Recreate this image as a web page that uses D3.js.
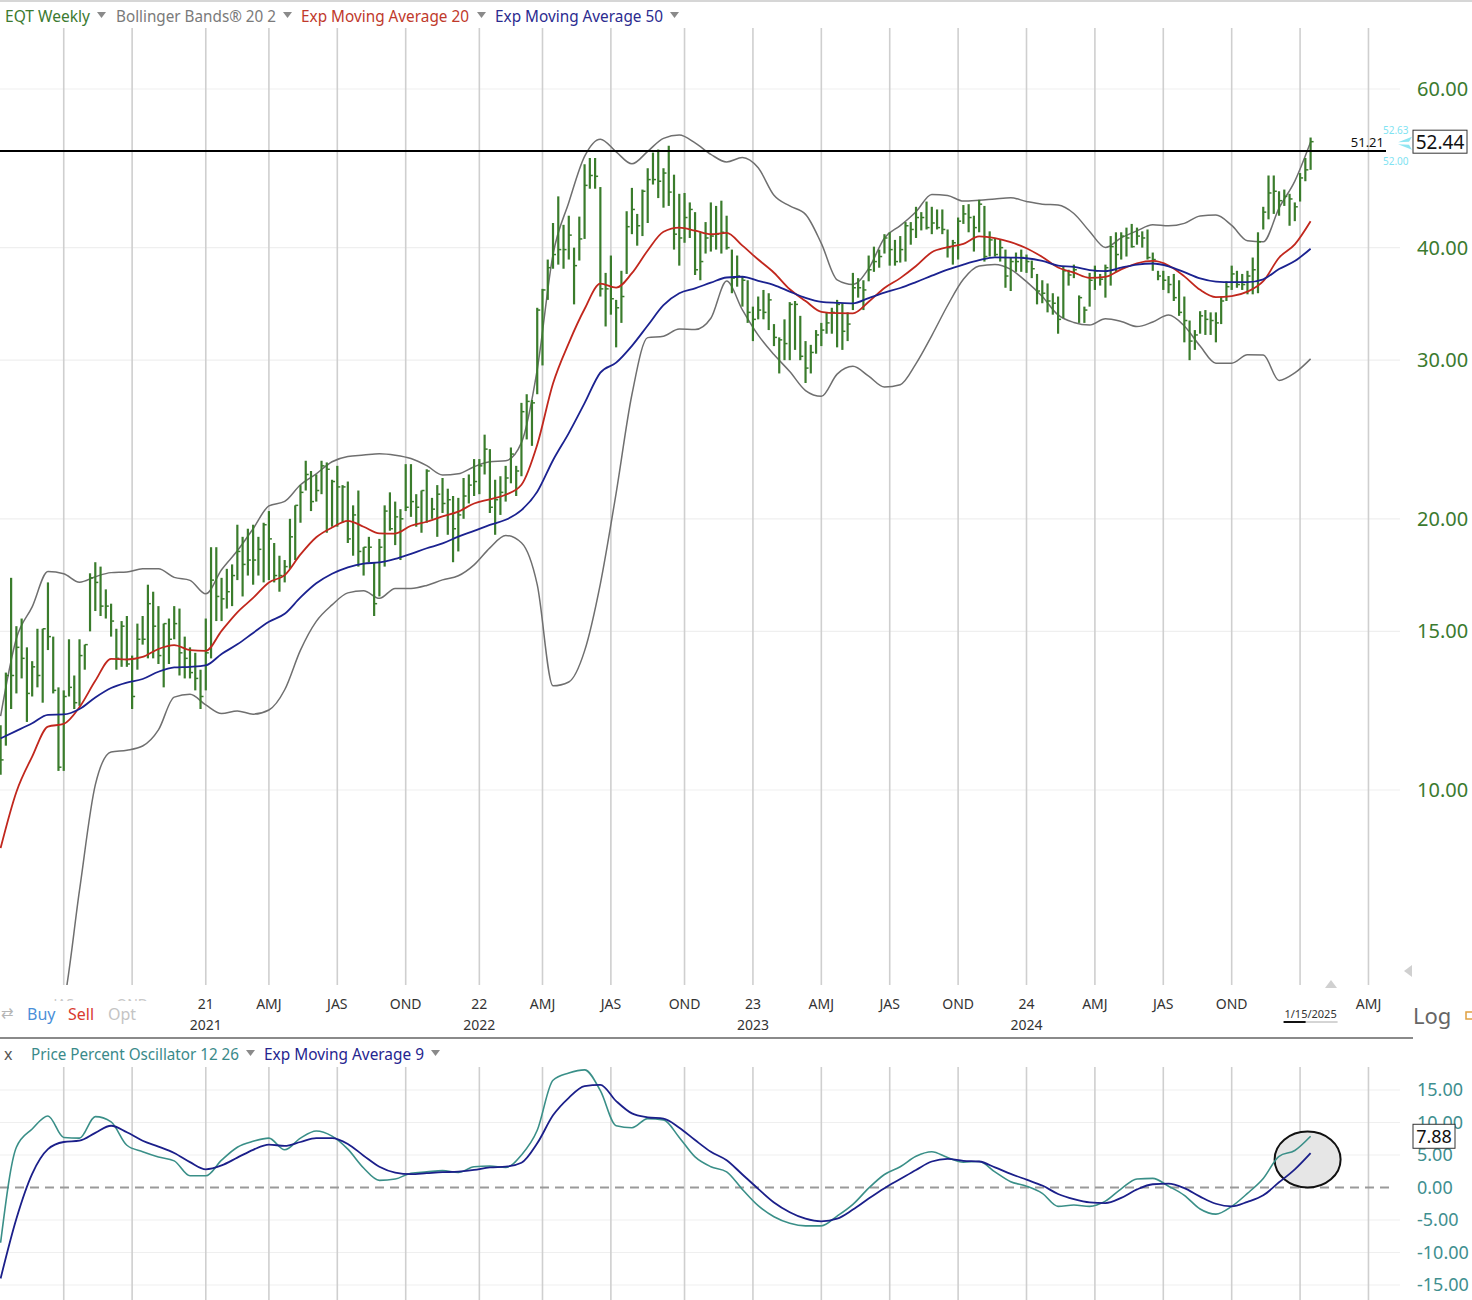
<!DOCTYPE html>
<html><head><meta charset="utf-8">
<script src="https://cdn.jsdelivr.net/npm/d3@7"></script>
<style>
body{margin:0;background:#fff;}
svg{display:block;font-family:"Noto Sans","Open Sans",sans-serif;}
</style></head><body>
<svg id="c" width="1472" height="1300"></svg>
<script>
// ---------- DATA ----------
const firstWeek = "2020-04-06";   // Monday of first weekly bar
const highs = [11.8,13.5,17.2,15.2,15.5,14.4,13.9,15.1,15.1,17.0,14.8,13.0,12.9,14.7,13.4,14.7,14.5,17.4,17.9,17.7,16.7,16.1,15.1,15.4,15.6,14.1,15.3,15.6,16.9,16.6,16.0,15.3,15.5,16.0,15.9,14.8,14.4,14.2,13.6,
15.5,18.6,18.6,17.2,17.6,17.8,19.7,19.1,19.5,19.7,19.1,19.8,20.4,18.8,18.2,18.0,20.0,20.7,21.8,23.2,22.6,22.4,23.2,23.1,22.1,22.9,21.8,22.0,20.7,21.5,18.6,19.1,17.9,19.0,20.7,21.4,20.9,20.5,23.0,23.0,21.3,21.5,22.7,
21.1,21.8,22.2,21.6,21.2,21.1,22.2,22.4,23.3,23.3,24.8,23.9,22.1,22.3,22.9,24.0,22.9,26.9,27.5,27.1,34.3,36.0,38.8,42.6,45.6,42.4,43.4,40.0,43.3,49.5,50.3,50.3,46.7,37.5,39.2,35.0,37.7,43.9,
46.6,43.6,46.4,49.0,51.0,51.4,49.0,51.9,48.2,45.9,46.0,44.9,43.8,41.6,42.7,44.9,44.5,45.1,43.4,39.8,39.2,37.2,36.8,34.4,35.3,35.9,35.6,32.9,31.8,33.3,34.8,34.9,33.6,31.5,31.2,32.4,33.0,33.9,34.3,35.0,34.7,33.9,
37.5,37.0,36.8,39.2,40.1,39.8,41.4,41.6,40.8,41.2,42.7,42.7,44.4,43.8,45.0,44.4,44.1,44.1,41.9,40.8,43.2,44.6,44.7,43.4,45.2,44.5,41.7,41.0,40.8,39.8,39.0,39.5,39.8,39.3,38.7,37.4,36.8,36.5,35.6,35.3,38.1,37.8,
38.3,35.4,34.4,37.5,38.2,37.4,38.3,41.2,41.6,41.6,42.1,42.5,42.1,41.7,41.9,39.5,37.7,37.7,37.2,37.4,36.8,35.3,33.2,32.4,34.0,34.1,33.9,33.9,35.3,36.7,38.2,37.7,37.4,37.7,39.0,41.6,44.4,48.1,48.1,46.2,46.4,45.9,44.9,48.4,50.3,53.0];
const lows = [10.4,11.2,12.3,12.8,13.3,11.9,12.7,13.0,12.5,14.3,12.8,10.5,10.5,12.7,12.3,12.4,13.6,15.0,15.8,15.6,15.5,14.8,13.6,13.7,13.7,12.3,13.6,14.5,14.0,14.0,13.8,13.0,13.8,14.7,13.4,13.3,13.3,12.9,12.3,
12.9,14.0,15.4,15.4,15.9,16.0,17.1,16.4,17.3,16.9,17.3,17.0,17.1,17.0,16.6,17.0,17.6,18.0,19.8,21.5,20.4,20.9,21.3,19.3,19.6,19.6,19.8,18.8,18.2,17.7,17.3,17.9,15.6,16.4,17.7,19.4,18.7,18.0,20.4,20.1,19.6,19.3,19.8,
20.0,19.1,20.3,19.2,17.9,18.4,20.0,20.8,21.2,21.3,22.4,20.3,19.2,20.2,20.9,21.9,21.2,22.3,24.5,24.1,27.5,29.6,35.0,37.9,38.3,37.9,38.8,34.6,38.7,40.9,46.5,46.5,35.3,32.7,33.7,31.0,33.0,37.4,
41.4,40.2,41.2,42.6,47.0,45.4,44.3,44.5,39.8,38.2,40.5,41.0,37.3,36.8,39.4,39.6,39.8,39.4,39.8,35.6,36.2,34.4,33.0,31.5,33.3,33.3,32.4,31.1,29.0,30.0,30.0,30.8,30.0,28.3,29.0,30.5,31.1,32.1,32.1,31.0,30.8,31.5,
34.1,35.2,34.1,36.7,37.6,38.0,39.4,38.2,38.2,38.5,38.6,40.3,41.0,41.8,41.9,41.4,41.9,41.4,39.0,38.3,38.8,42.5,41.6,39.6,41.6,38.6,39.1,39.1,38.6,36.1,35.8,37.6,37.6,37.5,37.0,34.6,34.7,33.9,33.7,32.1,33.4,36.3,
37.0,33.0,33.0,34.4,35.9,36.3,35.2,36.3,37.6,38.8,39.1,40.0,40.3,40.0,38.8,37.7,36.8,35.9,35.6,34.9,33.6,31.4,30.0,30.8,32.1,32.0,32.0,31.4,32.9,34.9,35.9,36.1,35.9,35.5,35.5,35.6,41.9,43.0,43.6,43.4,44.5,42.3,42.8,45.0,47.4,48.8];
const closes = [10.8,13.4,13.4,14.4,14.0,12.8,13.7,13.4,15.1,14.8,12.9,10.6,12.7,13.0,12.5,14.1,14.5,17.2,17.0,16.0,16.0,15.4,14.0,15.2,13.8,12.7,14.7,14.7,16.1,15.2,14.1,15.3,14.7,15.3,14.2,14.0,13.5,13.3,12.7,
14.2,17.1,16.4,16.3,16.6,17.3,18.4,17.8,18.0,18.0,18.5,19.7,19.0,17.3,17.3,17.7,19.1,20.7,21.4,22.4,20.9,21.5,22.9,22.7,22.0,21.7,21.7,19.0,20.2,18.4,18.6,18.6,16.1,18.6,20.4,19.5,20.1,20.0,20.6,20.9,20.6,21.5,22.6,
20.5,21.3,20.8,21.0,19.5,20.2,21.2,21.8,22.0,22.9,23.9,20.6,21.0,21.4,22.2,23.6,22.6,26.3,27.0,26.9,34.1,35.9,38.0,39.3,39.8,39.8,41.3,38.2,40.9,46.9,48.1,48.0,36.0,36.0,35.1,34.3,35.3,42.2,
44.1,42.3,46.2,47.6,47.6,47.4,48.4,46.1,41.4,41.0,43.2,44.1,37.8,38.6,41.0,41.2,41.4,41.6,40.0,37.0,37.2,36.8,33.9,33.3,34.1,33.9,35.0,31.8,31.6,31.3,34.6,34.6,30.3,29.4,30.6,32.0,32.4,33.0,33.9,34.6,32.3,32.9,
36.1,36.1,35.9,37.8,38.6,39.1,41.0,39.8,38.6,39.8,42.3,41.9,43.2,43.2,42.1,42.6,42.1,41.9,40.0,40.5,42.8,43.6,43.2,42.1,44.7,39.1,40.8,39.3,40.0,37.2,38.6,38.6,39.0,38.6,37.9,35.8,35.6,34.9,34.7,33.3,37.7,37.3,
37.8,35.2,34.1,36.8,37.7,36.9,38.0,40.1,39.3,41.2,41.0,40.1,41.2,41.0,39.0,38.8,37.2,36.8,36.4,35.2,33.9,33.2,31.5,32.0,33.6,33.3,33.2,33.0,34.9,36.2,37.4,36.4,36.4,37.2,37.8,40.6,43.8,46.0,46.2,45.1,45.6,45.3,44.4,47.8,48.8,52.44];

// indicator lines, read every 3rd weekly bar (bars 0,3,6,...,249)
const lineStep = 3;
const ema20 = [8.62,9.95,10.89,11.76,11.84,12.36,13.22,13.98,13.96,14.05,14.34,14.48,14.30,14.27,15.02,15.75,16.34,17.00,17.32,18.26,
19.08,19.56,19.90,19.60,19.27,19.26,19.65,19.85,20.13,20.37,20.80,21.02,21.27,21.82,24.17,28.26,31.34,34.19,36.48,36.11,
37.47,39.71,41.65,42.10,41.78,41.39,41.54,40.20,38.80,37.51,35.96,34.90,33.95,33.83,33.82,34.83,36.08,37.00,38.16,39.53,
40.04,40.39,41.16,40.98,40.56,39.94,39.06,38.02,37.53,37.03,37.11,37.84,38.42,38.66,38.22,37.17,35.91,35.25,35.34,35.74,
36.71,38.98,40.34,42.80];
const ema50 = [11.41,11.63,11.86,12.12,12.13,12.30,12.67,12.98,13.16,13.28,13.53,13.68,13.70,13.75,14.16,14.51,14.94,15.37,15.69,16.36,
16.96,17.38,17.67,17.84,17.89,18.05,18.29,18.55,18.78,19.11,19.39,19.69,19.95,20.45,21.43,23.23,24.90,26.88,29.06,29.81,
31.12,32.78,34.53,35.60,36.05,36.57,37.06,37.13,36.74,36.35,35.75,35.18,34.82,34.74,34.69,35.16,35.66,36.08,36.63,37.23,
37.82,38.31,38.74,39.01,39.00,38.93,38.67,38.21,38.07,37.77,37.67,38.00,38.31,38.41,38.14,37.57,36.97,36.67,36.62,36.62,
36.89,37.87,38.65,39.89];
const bbUpper = [12.08,14.73,15.97,17.48,17.38,17.01,17.25,17.43,17.46,17.60,17.60,17.22,17.09,16.51,17.56,18.43,19.50,20.67,20.91,21.82,
22.44,23.14,23.46,23.54,23.62,23.53,23.33,22.91,22.37,22.44,22.85,23.14,23.20,24.30,29.29,39.30,44.89,50.50,52.78,51.10,
49.55,51.16,52.89,53.33,52.29,50.77,49.80,50.36,49.05,45.73,44.50,43.55,40.44,36.84,36.41,37.92,41.00,42.31,43.85,45.83,
45.71,45.05,45.15,45.30,45.43,45.01,44.70,44.61,43.65,41.69,40.02,41.01,41.76,42.40,42.29,42.56,43.38,43.47,42.34,40.71,
40.60,44.26,47.42,52.40];
const bbLower = [3.6,4.2,4.8,5.3,5.8,7.74,10.13,11.02,11.07,11.19,11.66,12.68,12.77,12.43,12.16,12.24,12.14,12.27,12.92,14.30,
15.39,16.05,16.55,16.64,16.32,16.74,16.74,16.87,17.11,17.29,17.78,18.57,19.17,18.81,16.90,13.05,13.18,14.27,16.94,21.36,
27.48,31.78,31.90,32.48,32.44,33.39,36.72,34.12,31.98,30.43,29.14,27.76,27.35,28.95,29.53,28.80,28.01,28.18,29.74,31.95,
34.50,36.89,38.16,38.31,37.83,36.67,35.30,33.68,33.04,32.82,33.36,33.12,32.69,33.08,33.67,32.74,31.10,29.77,29.77,30.42,
30.40,28.49,29.04,30.10];
const ppo = [-8.5,6.2,9.0,11.0,7.7,7.6,10.9,10.1,6.5,5.5,4.7,4.1,1.8,1.8,4.2,6.2,7.1,7.6,5.8,7.6,
8.7,7.9,5.9,3.0,1.1,1.3,2.2,2.4,2.6,2.3,3.2,3.3,3.1,5.0,8.8,16.5,17.6,18.1,14.9,9.5,
9.2,10.6,10.4,7.7,4.7,3.2,2.4,-0.3,-2.8,-4.5,-5.5,-5.9,-5.9,-4.4,-2.6,-0.1,2.0,3.2,4.8,5.5,
4.6,3.9,4.0,2.4,0.9,0.2,-0.9,-2.9,-2.7,-2.9,-2.1,-0.2,1.3,1.4,0.2,-1.2,-3.3,-4.1,-2.9,-0.9,
1.4,4.8,5.7,7.88];
const ppoSignal = [-14.0,-4.8,2.1,5.9,7.0,7.2,8.4,9.5,8.5,7.2,6.3,5.3,3.9,2.8,3.4,4.6,5.8,6.6,6.4,7.0,
7.6,7.6,6.7,4.9,3.2,2.3,2.05,2.2,2.35,2.45,2.7,3.1,3.2,3.8,6.8,11.1,13.8,15.6,15.8,13.3,
11.4,10.8,10.6,9.2,7.3,5.5,4.2,2.0,-0.2,-2.3,-3.8,-4.8,-5.2,-4.8,-3.4,-1.7,-0.1,1.3,2.7,4.0,
4.4,4.1,4.0,3.1,2.1,1.2,0.3,-1.0,-1.8,-2.3,-2.4,-1.6,-0.3,0.5,0.6,-0.1,-1.4,-2.5,-2.9,-2.2,
-1.2,0.8,2.8,5.3];

const priceTicks = [60,40,30,20,15,10];
const ppoTicks = [15,10,5,0,-5,-10,-15];
const refLevel = 51.21;
const lastClose = 52.44;
const lastPpo = 7.88;
const bandHigh = 52.63, bandLow = 52.00;
const quarterTicks = [["2020-06-29","JAS"],["2020-09-28","OND"],["2021-01-04","21"],["2021-03-29","AMJ"],["2021-06-28","JAS"],["2021-09-27","OND"],
["2022-01-03","22"],["2022-03-28","AMJ"],["2022-06-27","JAS"],["2022-10-03","OND"],["2023-01-02","23"],["2023-04-03","AMJ"],["2023-07-03","JAS"],
["2023-10-02","OND"],["2024-01-01","24"],["2024-04-01","AMJ"],["2024-07-01","JAS"],["2024-09-30","OND"],["2024-12-30",""],["2025-03-31","AMJ"]];
const yearLabels = [["2021-01-04","2021"],["2022-01-03","2022"],["2023-01-02","2023"],["2024-01-01","2024"]];
const currentDateLabel = "1/15/2025";

// ---------- CHART ----------
const svg = d3.select("#c");
const parse = d3.utcParse("%Y-%m-%d");
const start = parse(firstWeek);
const bars = highs.map((h,i)=>({date:d3.utcDay.offset(start,7*i),h,l:lows[i],c:closes[i]}));
const last = bars[bars.length-1];

const x = d3.scaleUtc().domain([bars[0].date,last.date]).range([0.6,1310.6]);
const yP = d3.scaleLog().domain([10,60]).range([790,89]);
const yO = d3.scaleLinear().domain([-15,15]).range([1285,1090]);

const defs = svg.append("defs");
defs.append("clipPath").attr("id","cu").append("rect").attr("x",0).attr("y",28).attr("width",1400).attr("height",957);
defs.append("clipPath").attr("id","cl").append("rect").attr("x",0).attr("y",1066).attr("width",1400).attr("height",234);
defs.append("clipPath").attr("id","cq").append("rect").attr("x",0).attr("y",990).attr("width",1472).attr("height",11);

// top border
svg.append("line").attr("x1",0).attr("x2",1472).attr("y1",1).attr("y2",1).attr("stroke","#d6d6d6").attr("stroke-width",2);

// horizontal faint gridlines
svg.append("g").selectAll("line").data(priceTicks).join("line")
  .attr("x1",0).attr("x2",1400).attr("y1",d=>yP(d)).attr("y2",d=>yP(d))
  .attr("stroke","#efefef").attr("stroke-width",1.2);
svg.append("g").selectAll("line").data(ppoTicks.filter(d=>d!==0)).join("line")
  .attr("x1",0).attr("x2",1400).attr("y1",d=>yO(d)).attr("y2",d=>yO(d))
  .attr("stroke","#efefef").attr("stroke-width",1.2);

// vertical quarter gridlines
const qx = quarterTicks.map(([d,l])=>({x:x(parse(d)),l}));
svg.append("g").selectAll("line").data(qx).join("line")
  .attr("x1",d=>d.x).attr("x2",d=>d.x).attr("y1",28).attr("y2",985)
  .attr("stroke","#cfcfcf").attr("stroke-width",1.6);
svg.append("g").selectAll("line").data(qx).join("line")
  .attr("x1",d=>d.x).attr("x2",d=>d.x).attr("y1",1067).attr("y2",1300)
  .attr("stroke","#cfcfcf").attr("stroke-width",1.6);

// upper panel
const up = svg.append("g").attr("clip-path","url(#cu)");
const lineIdx = ema20.map((_,k)=>Math.min(k*lineStep,bars.length-1));
const mkLine = (yS)=>d3.line().x((v,k)=>x(bars[lineIdx[k]].date)).y(v=>yS(v)).curve(d3.curveMonotoneX);

up.append("path").datum(bbUpper).attr("d",mkLine(yP)).attr("fill","none").attr("stroke","#6f6f6f").attr("stroke-width",1.5);
up.append("path").datum(bbLower).attr("d",mkLine(yP)).attr("fill","none").attr("stroke","#6f6f6f").attr("stroke-width",1.5);

const barG = up.append("g").attr("stroke","#3a7c2c");
barG.selectAll("line.hl").data(bars).join("line").attr("class","hl")
  .attr("x1",d=>x(d.date)).attr("x2",d=>x(d.date)).attr("y1",d=>yP(d.h)).attr("y2",d=>yP(d.l)).attr("stroke-width",2.2);
barG.selectAll("line.cl").data(bars).join("line").attr("class","cl")
  .attr("x1",d=>x(d.date)).attr("x2",d=>x(d.date)+3).attr("y1",d=>yP(d.c)).attr("y2",d=>yP(d.c)).attr("stroke-width",1.5);

up.append("path").datum(ema20).attr("d",mkLine(yP)).attr("fill","none").attr("stroke","#c1271d").attr("stroke-width",1.8);
up.append("path").datum(ema50).attr("d",mkLine(yP)).attr("fill","none").attr("stroke","#1b2290").attr("stroke-width",1.8);

// reference level line
svg.append("line").attr("x1",0).attr("x2",1386).attr("y1",yP(refLevel)).attr("y2",yP(refLevel)).attr("stroke","#000").attr("stroke-width",2);
svg.append("text").attr("x",1384).attr("y",yP(refLevel)-4).attr("text-anchor","end").attr("font-size",13).attr("fill","#111").text(refLevel.toFixed(2));

// price axis labels
svg.append("g").selectAll("text").data(priceTicks).join("text")
  .attr("x",1417).attr("y",d=>yP(d)).attr("dy","0.35em").attr("font-size",20).attr("fill","#3b7a2f")
  .text(d=>d.toFixed(2));

// last value markers
svg.append("text").attr("x",1383).attr("y",yP(bandHigh)-6).attr("font-size",10).attr("fill","#7fe3f2").text(bandHigh.toFixed(2));
svg.append("text").attr("x",1383).attr("y",yP(bandHigh)+25).attr("font-size",10).attr("fill","#7fe3f2").text(bandLow.toFixed(2));
const ly = yP(lastClose);
svg.append("path").attr("d",`M1398,${ly+0.5}L1412,${ly-5}L1409,${ly}Z M1398,${ly+2.5}L1412,${ly+8}L1409,${ly+3}Z`).attr("fill","#8fe6f2");
svg.append("rect").attr("x",1413).attr("y",ly-11.5).attr("width",54).attr("height",23).attr("fill","#fff").attr("stroke","#333").attr("stroke-width",1);
svg.append("text").attr("x",1440).attr("y",ly).attr("dy","0.36em").attr("text-anchor","middle").attr("font-size",19).attr("fill","#111").text(lastClose.toFixed(2));

// small nav triangles
svg.append("path").attr("d","M1325,988L1331,980L1337,988Z").attr("fill","#d0d0d0");
svg.append("path").attr("d","M1404,971L1412,965L1412,977Z").attr("fill","#d0d0d0");

// top legend
const leg = svg.append("g").attr("font-size",16);
const legItems = [
  {t:"EQT Weekly",x:5,w:85,c:"#3c7a30",a:97},
  {t:"Bollinger Bands® 20 2",x:116,w:160,c:"#7a7a7a",a:283},
  {t:"Exp Moving Average 20",x:301,w:168,c:"#c0392b",a:477},
  {t:"Exp Moving Average 50",x:495,w:168,c:"#2b2b8f",a:670}];
legItems.forEach(d=>{
  leg.append("text").attr("x",d.x).attr("y",22).attr("fill",d.c).attr("textLength",d.w).attr("lengthAdjust","spacingAndGlyphs").text(d.t);
  leg.append("path").attr("d",`M${d.a},12L${d.a+9},12L${d.a+4.5},18Z`).attr("fill","#8a8a8a");
});

// x axis labels (the first two are mostly hidden behind the trade buttons, as in the source)
const xl = svg.append("g").attr("font-size",14).attr("text-anchor","middle");
xl.selectAll("text").data(qx.filter(d=>d.l && d.x>=150)).join("text")
  .attr("x",d=>d.x).attr("y",1009).attr("fill","#333").text(d=>d.l);
svg.append("g").attr("font-size",14).attr("text-anchor","middle").attr("clip-path","url(#cq)")
  .selectAll("text").data(qx.filter(d=>d.l && d.x<150)).join("text")
  .attr("x",d=>d.x).attr("y",1009).attr("fill","#c8c8c8").text(d=>d.l);
svg.append("g").attr("font-size",14).attr("text-anchor","middle").selectAll("text").data(yearLabels).join("text")
  .attr("x",d=>x(parse(d[0]))).attr("y",1030).attr("fill","#333").text(d=>d[1]);
const lx = x(last.date);
svg.append("text").attr("x",lx).attr("y",1018).attr("text-anchor","middle").attr("font-size",11).attr("fill","#333").text(currentDateLabel);
svg.append("line").attr("x1",lx-27).attr("x2",lx+27).attr("y1",1022).attr("y2",1022).attr("stroke","#aaa").attr("stroke-width",1);
svg.append("line").attr("x1",lx-27).attr("x2",lx-5).attr("y1",1022).attr("y2",1022).attr("stroke","#111").attr("stroke-width",2);

// Buy / Sell / Opt
svg.append("text").attr("x",1).attr("y",1018).attr("font-size",15).attr("fill","#b5b5b5").text("⇄");
svg.append("text").attr("x",27).attr("y",1020).attr("font-size",16).attr("fill","#4a8fd8").text("Buy");
svg.append("text").attr("x",68).attr("y",1020).attr("font-size",16).attr("fill","#d93a2f").text("Sell");
svg.append("text").attr("x",108).attr("y",1020).attr("font-size",16).attr("fill","#c4c4c4").text("Opt");
svg.append("text").attr("x",1413).attr("y",1024).attr("font-size",22).attr("fill","#666").text("Log");
svg.append("rect").attr("x",1466).attr("y",1012).attr("width",8).attr("height",7).attr("fill","none").attr("stroke","#e0a040").attr("stroke-width",1.5);

// separator
svg.append("line").attr("x1",0).attr("x2",1413).attr("y1",1038).attr("y2",1038).attr("stroke","#8a8a8a").attr("stroke-width",2);

// lower legend
const leg2 = svg.append("g").attr("font-size",16);
leg2.append("text").attr("x",4).attr("y",1060).attr("fill","#555").text("x");
leg2.append("text").attr("x",31).attr("y",1060).attr("fill","#3a8a8a").attr("textLength",208).attr("lengthAdjust","spacingAndGlyphs").text("Price Percent Oscillator 12 26");
leg2.append("path").attr("d","M246,1050L255,1050L250.5,1056Z").attr("fill","#8a8a8a");
leg2.append("text").attr("x",264).attr("y",1060).attr("fill","#25258f").attr("textLength",160).attr("lengthAdjust","spacingAndGlyphs").text("Exp Moving Average 9");
leg2.append("path").attr("d","M431,1050L440,1050L435.5,1056Z").attr("fill","#8a8a8a");

// lower panel
svg.append("line").attr("x1",0).attr("x2",1392).attr("y1",yO(0)).attr("y2",yO(0)).attr("stroke","#9a9a9a").attr("stroke-width",2).attr("stroke-dasharray","9,6");
// annotation ellipse around latest oscillator readings
svg.append("ellipse").attr("cx",lx-3).attr("cy",yO(4.3)).attr("rx",33).attr("ry",28)
  .attr("fill","#e6e6e6").attr("stroke","#111").attr("stroke-width",2);
const lo = svg.append("g").attr("clip-path","url(#cl)");
lo.append("path").datum(ppo).attr("d",mkLine(yO)).attr("fill","none").attr("stroke","#3a8f88").attr("stroke-width",1.6);
lo.append("path").datum(ppoSignal).attr("d",mkLine(yO)).attr("fill","none").attr("stroke","#1b1f8a").attr("stroke-width",1.8);

svg.append("g").selectAll("text").data(ppoTicks).join("text")
  .attr("x",1417).attr("y",d=>yO(d)).attr("dy","0.35em").attr("font-size",18).attr("fill","#3f8f8f")
  .text(d=>d.toFixed(2));
const py = yO(lastPpo);
svg.append("rect").attr("x",1413).attr("y",py-12).attr("width",42).attr("height",24).attr("fill","#fff").attr("stroke","#333").attr("stroke-width",1);
svg.append("text").attr("x",1434).attr("y",py).attr("dy","0.36em").attr("text-anchor","middle").attr("font-size",18).attr("fill","#111").text(lastPpo.toFixed(2));
</script>
</body></html>
